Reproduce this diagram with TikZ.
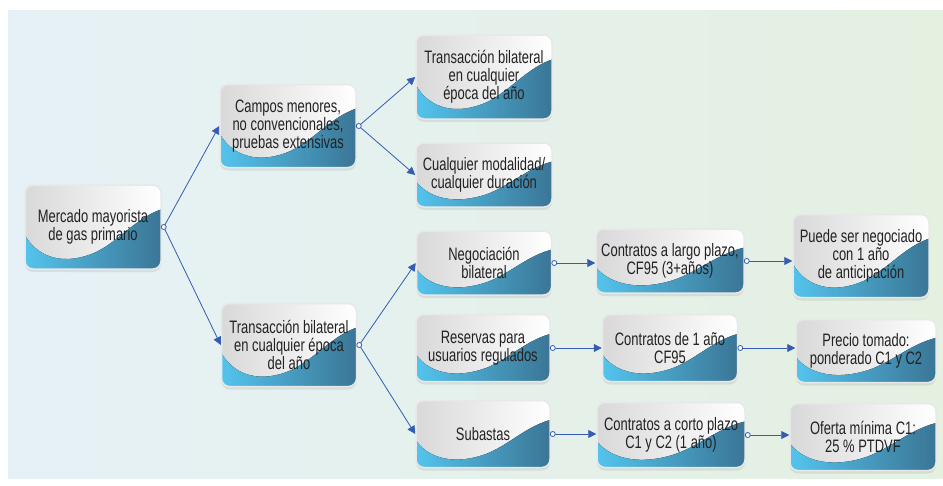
\documentclass[tikz,border=0pt]{standalone}
\usepackage{fontspec}
\setmainfont{Liberation Sans}[FakeStretch=0.72]
\usetikzlibrary{arrows.meta,shadows,calc}

\definecolor{bgblue}{RGB}{230,241,247}
\definecolor{bggreen}{RGB}{228,240,224}
\definecolor{wavelight}{RGB}{84,197,238}
\definecolor{wavedark}{RGB}{58,116,148}
\definecolor{linkblue}{RGB}{52,92,178}
\definecolor{textgrey}{RGB}{34,34,34}

\tikzset{
  wavebox/.style={rounded corners=8pt, draw=black!9, line width=1.5pt,
    left color=black!15, right color=white, inner sep=0pt, align=center,
    text=textgrey, font=\fontsize{18}{17.8}\selectfont,
    drop shadow={opacity=0.16, shadow xshift=0pt, shadow yshift=-3pt},
    path picture={
      \fill[draw=none, sharp corners, left color=wavelight, right color=wavedark]
        let \p1=(path picture bounding box.north west),
            \p2=(path picture bounding box.south east),
            \n1={\x2-\x1}, \n2={\y2-\y1} in
        (\x1,\y1+0.60*\n2) .. controls (\x1+0.10*\n1,\y1+0.88*\n2) and (\x1+0.30*\n1,\y1+0.96*\n2) ..
        (\x1+0.52*\n1,\y1+0.80*\n2) .. controls (\x1+0.70*\n1,\y1+0.66*\n2) and (\x1+0.82*\n1,\y1+0.38*\n2) ..
        (\x1+1.02*\n1,\y1+0.28*\n2) -- (\x2+2pt,\y2-2pt) -- (\x1-2pt,\y2-2pt) -- cycle;
    }},
  conn/.style={draw=linkblue, line width=0.8pt, -{Triangle[length=8pt,width=8pt]}},
  dotc/.style={draw=linkblue, line width=0.8pt, fill=white}
}

\begin{document}
\begin{tikzpicture}[x=1pt,y=-1pt]
  \useasboundingbox (0,0) rectangle (943,485);
  \fill[left color=bgblue, right color=bggreen] (8,10) rectangle (943,478);

  % first level
  \node[wavebox, minimum width=136pt, minimum height=84pt] (mercado) at (93,227) {Mercado mayorista\\de gas primario};

  % second level
  \node[wavebox, minimum width=136pt, minimum height=83pt] (campos) at (288,126) {Campos menores,\\no convencionales,\\pruebas extensivas};
  \node[wavebox, minimum width=135pt, minimum height=83pt] (transaccion) at (289,345) {Transacción bilateral\\en cualquier época\\del año};

  % third level
  \node[wavebox, minimum width=136pt, minimum height=84pt] (bilateral) at (484,77) {Transacción bilateral\\en cualquier\\época del año};
  \node[wavebox, minimum width=136pt, minimum height=64pt] (modalidad) at (484,175) {Cualquier modalidad/\\cualquier duración};
  \node[wavebox, minimum width=135pt, minimum height=64pt] (negociacion) at (484,263) {Negociación\\bilateral};
  \node[wavebox, minimum width=134pt, minimum height=67pt] (reservas) at (483,348) {Reservas para\\usuarios regulados};
  \node[wavebox, minimum width=134pt, minimum height=67pt] (subastas) at (483,434) {Subastas};

  % contracts
  \node[wavebox, minimum width=148pt, minimum height=64pt] (largo) at (670,261) {Contratos a largo plazo,\\CF95 (3+años)};
  \node[wavebox, minimum width=135pt, minimum height=67pt] (anual) at (670,348) {Contratos de 1 año\\CF95};
  \node[wavebox, minimum width=148pt, minimum height=65pt] (corto) at (671,435) {Contratos a corto plazo\\C1 y C2 (1 año)};

  % conditions
  \node[wavebox, minimum width=136pt, minimum height=83pt] (negociado) at (861,256) {Puede ser negociado\\con 1 año\\de anticipación};
  \node[wavebox, minimum width=140pt, minimum height=63pt] (precio) at (866,351) {Precio tomado:\\ponderado C1 y C2};
  \node[wavebox, minimum width=146pt, minimum height=67pt] (oferta) at (863,437) {Oferta mínima C1:\\25 \% PTDVF};

  % connectors
  \draw[conn] ([xshift=2pt]mercado.east) -- (campos.west);
  \draw[conn] ([xshift=2pt]mercado.east) -- (transaccion.west);
  \draw[conn] ([xshift=2pt]campos.east) -- (bilateral.west);
  \draw[conn] ([xshift=2pt]campos.east) -- (modalidad.west);
  \draw[conn] ([xshift=2pt]transaccion.east) -- (negociacion.west);
  \draw[conn] ([xshift=2pt]transaccion.east) -- (subastas.west);
  \draw[conn] ([xshift=2pt]negociacion.east) -- (negociacion.east -| largo.west);
  \draw[conn] ([xshift=2pt]largo.east) -- (largo.east -| negociado.west);
  \draw[conn] ([xshift=2pt]reservas.east) -- (reservas.east -| anual.west);
  \draw[conn] ([xshift=2pt]anual.east) -- (anual.east -| precio.west);
  \draw[conn] ([xshift=2pt]subastas.east) -- (subastas.east -| corto.west);
  \draw[conn] ([xshift=2pt]corto.east) -- (corto.east -| oferta.west);

  \foreach \n in {mercado,campos,transaccion,negociacion,largo,reservas,anual,subastas,corto}
    \draw[dotc] ([xshift=2pt]\n.east) circle (2.5pt);
\end{tikzpicture}
\end{document}
